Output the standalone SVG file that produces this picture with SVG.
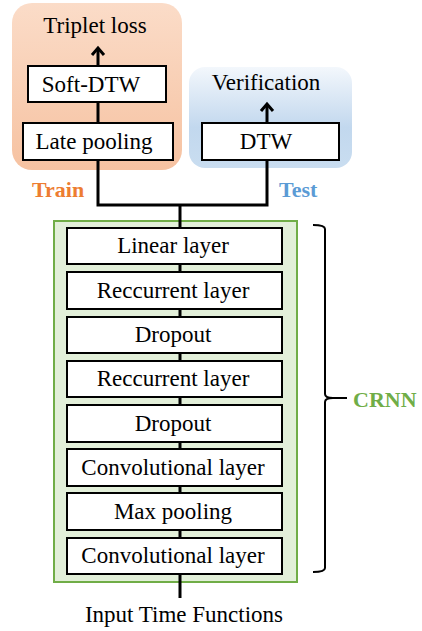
<svg xmlns="http://www.w3.org/2000/svg" width="422" height="631" viewBox="0 0 422 631">
<defs>
<linearGradient id="gTrain" x1="0" y1="0" x2="0" y2="1">
<stop offset="0" stop-color="#fbdcc8"/>
<stop offset="1" stop-color="#f6c2a1"/>
</linearGradient>
<linearGradient id="gTest" x1="0" y1="0" x2="0" y2="1">
<stop offset="0" stop-color="#f3f7fc"/>
<stop offset="0.6" stop-color="#c2d8ee"/>
<stop offset="1" stop-color="#c9ddf0"/>
</linearGradient>
</defs>
<style>
.box{fill:#fff;stroke:#000;stroke-width:2}
.t{font-family:'Liberation Serif','Times New Roman',serif;font-size:23px;fill:#000;text-anchor:middle}
.b{font-family:'Liberation Serif','Times New Roman',serif;font-size:22px;font-weight:bold}
.ln{fill:none;stroke:#000;stroke-width:3}
.ah{fill:none;stroke:#000;stroke-width:3;stroke-linejoin:miter}
</style>
<g id="train-panel">
<rect x="12" y="3" width="170" height="167" rx="20" fill="url(#gTrain)"/>
<text class="b" x="32" y="197" fill="#ed7d31">Train</text>
</g>
<g id="test-panel">
<rect x="189" y="67" width="163" height="101" rx="16" fill="url(#gTest)"/>
<text class="b" x="279" y="197" fill="#5b9bd5">Test</text>
</g>
<g id="crnn-panel">
<rect x="54" y="221" width="243" height="361" fill="#e2efd9" stroke="#70ad47" stroke-width="2"/>
</g>
<g id="connectors">
<polyline class="ln" points="98,160 98,205 267,205 267,160"/>
<line class="ln" x1="180" y1="205" x2="180" y2="228"/>
<line class="ln" x1="98" y1="102" x2="98" y2="123"/>
<line class="ln" x1="98" y1="66" x2="98" y2="48"/>
<polyline class="ah" points="92,55 98,48 104,55"/>
<line class="ln" x1="267" y1="123" x2="267" y2="104"/>
<polyline class="ah" points="261,111 267,104 273,111"/>
<line class="ln" x1="180" y1="264" x2="180" y2="272"/>
<line class="ln" x1="180" y1="309" x2="180" y2="317"/>
<line class="ln" x1="180" y1="353" x2="180" y2="361"/>
<line class="ln" x1="180" y1="397" x2="180" y2="405"/>
<line class="ln" x1="180" y1="442" x2="180" y2="449"/>
<line class="ln" x1="180" y1="486" x2="180" y2="493"/>
<line class="ln" x1="180" y1="530" x2="180" y2="538"/>
<line class="ln" x1="180" y1="574" x2="180" y2="598"/>
<path d="M313,225 Q325,225 325,229 L325,394 Q325,398 333,398 L347,398 M333,398 Q325,398 325,402 L325,568 Q325,572 313,572" fill="none" stroke="#000" stroke-width="2"/>
</g>
<g id="triplet-loss"><text class="t" x="95" y="33">Triplet loss</text></g>
<g id="soft-dtw"><rect class="box" x="28" y="66" width="138" height="36"/><text class="t" x="91" y="92">Soft-DTW</text></g>
<g id="late-pooling"><rect class="box" x="23" y="123" width="150" height="37"/><text class="t" x="94" y="149">Late pooling</text></g>
<g id="verification"><text class="t" x="266" y="90">Verification</text></g>
<g id="dtw"><rect class="box" x="202" y="123" width="137" height="37"/><text class="t" x="266" y="149">DTW</text></g>
<g id="linear"><rect class="box" x="67" y="228" width="215" height="36"/><text class="t" x="173" y="253">Linear layer</text></g>
<g id="rec1"><rect class="box" x="67" y="272" width="215" height="37"/><text class="t" x="173" y="298">Reccurrent layer</text></g>
<g id="drop1"><rect class="box" x="67" y="317" width="215" height="36"/><text class="t" x="173" y="342">Dropout</text></g>
<g id="rec2"><rect class="box" x="67" y="361" width="215" height="36"/><text class="t" x="173" y="386">Reccurrent layer</text></g>
<g id="drop2"><rect class="box" x="67" y="405" width="215" height="37"/><text class="t" x="173" y="431">Dropout</text></g>
<g id="conv1"><rect class="box" x="67" y="449" width="215" height="37"/><text class="t" x="173" y="475">Convolutional layer</text></g>
<g id="maxpool"><rect class="box" x="67" y="493" width="215" height="37"/><text class="t" x="173" y="519">Max pooling</text></g>
<g id="conv2"><rect class="box" x="67" y="538" width="215" height="36"/><text class="t" x="173" y="563">Convolutional layer</text></g>
<g id="crnn-label"><text class="b" x="353" y="407" fill="#70ad47">CRNN</text></g>
<g id="input"><text class="t" x="184" y="622">Input Time Functions</text></g>
</svg>
